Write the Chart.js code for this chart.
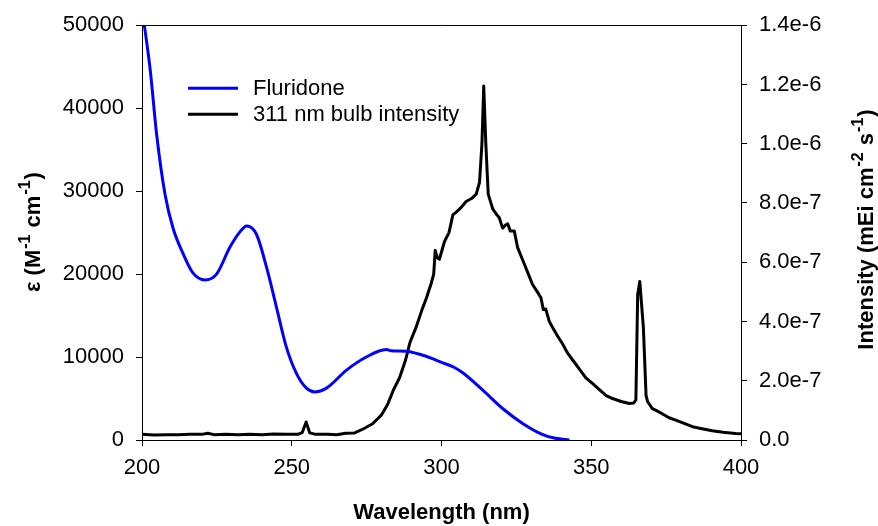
<!DOCTYPE html>
<html>
<head>
<meta charset="utf-8">
<script src="https://cdn.jsdelivr.net/npm/chart.js@4.4.1/dist/chart.umd.min.js"></script>
<style>
  html, body { margin: 0; padding: 0; background: #fff; }
  #wrap { width: 878px; height: 526px; }
</style>
</head>
<body>
<div id="wrap"><canvas id="c" width="878" height="526"></canvas></div>
<script>
// ---- data ----
const fluLabel = 'Fluridone';
const fluWl  = [200, 202.7, 204.9, 207.7, 210.4, 213.8, 217, 221, 224.9, 229.3, 232.5, 235, 238.2, 241.6, 244.9, 248.2, 251.6, 254.9, 257.7, 261.6, 268.2, 274.9, 281.6, 283.2, 288, 293, 297, 300.4, 304, 307.1, 313.8, 320.4, 327.1, 333.8, 338, 342.7];
const fluEps = [52000, 44760, 36800, 29600, 25500, 22400, 20150, 19300, 20000, 23200, 25000, 25800, 24800, 20800, 16000, 11200, 8000, 6250, 5800, 6250, 8400, 10000, 10900, 10750, 10700, 10300, 9800, 9300, 8800, 8100, 6000, 3800, 2000, 650, 200, 0];

const bulbLabel = '311 nm bulb intensity';
const bulbWl = [200, 204, 208, 212, 216, 220, 222, 224, 228, 232, 236, 240, 244, 248, 252, 253.5, 254.8, 256, 258, 262, 265, 268, 271, 274, 277, 280, 282, 284, 286, 288, 289.5, 291.5, 293.5, 295, 296.6, 297.4, 297.9, 298.6, 299.3, 301, 302.5, 303.8, 305, 306.6, 308.2, 310, 311.6, 312.7, 313.5, 314.1, 314.8, 315.6, 317.1, 318.5, 319.3, 320.4, 321.3, 322.1, 323, 324.3, 325.4, 327, 328.2, 330.4, 332, 333.2, 334, 334.8, 336, 337.1, 338.8, 340.4, 342, 343.8, 346, 348.2, 350.5, 352.7, 355, 357.1, 360, 362.7, 364.2, 364.9, 365.5, 366.2, 367.4, 368.3, 368.8, 370.4, 372, 373.8, 376, 378.2, 381, 383.8, 387, 390.4, 394, 398.2, 400];
const bulbI  = [1.9e-8, 1.7e-8, 1.8e-8, 1.8e-8, 1.9e-8, 1.9e-8, 2.3e-8, 1.8e-8, 1.9e-8, 1.8e-8, 1.9e-8, 1.8e-8, 2.0e-8, 1.9e-8, 1.9e-8, 2.5e-8, 6.1e-8, 2.4e-8, 1.9e-8, 1.9e-8, 1.8e-8, 2.3e-8, 2.4e-8, 3.8e-8, 5.5e-8, 8.5e-8, 1.2e-7, 1.7e-7, 2.1e-7, 2.7e-7, 3.3e-7, 3.8e-7, 4.4e-7, 4.8e-7, 5.3e-7, 5.6e-7, 6.4e-7, 6.15e-7, 6.1e-7, 6.7e-7, 7.0e-7, 7.6e-7, 7.7e-7, 7.85e-7, 8.05e-7, 8.15e-7, 8.3e-7, 8.7e-7, 1.0e-6, 1.195e-6, 1.0e-6, 8.3e-7, 7.8e-7, 7.6e-7, 7.5e-7, 7.15e-7, 7.25e-7, 7.3e-7, 7.05e-7, 7.05e-7, 6.5e-7, 6.1e-7, 5.8e-7, 5.25e-7, 5.0e-7, 4.8e-7, 4.4e-7, 4.42e-7, 4.0e-7, 3.8e-7, 3.5e-7, 3.25e-7, 2.95e-7, 2.7e-7, 2.4e-7, 2.1e-7, 1.9e-7, 1.7e-7, 1.5e-7, 1.4e-7, 1.3e-7, 1.23e-7, 1.25e-7, 1.35e-7, 4.9e-7, 5.35e-7, 3.8e-7, 1.5e-7, 1.3e-7, 1.06e-7, 9.8e-8, 8.8e-8, 7.5e-8, 6.7e-8, 5.6e-8, 4.5e-8, 3.8e-8, 3.1e-8, 2.6e-8, 2.2e-8, 2.1e-8];

const xTitle = 'Wavelength (nm)';
// y titles as [text, isSuperscript] pieces
const yLeftTitle  = [['ε (M', false], ['-1', true], [' cm', false], ['-1', true], [')', false]];
const yRightTitle = [['Intensity (mEi cm', false], ['-2', true], [' s', false], ['-1', true], [')', false]];
const xRange = [200, 400, 50];
const yLeftRange = [0, 50000, 10000];
const yRightRange = [0, 1.4e-6, 2e-7];

// ---- chart ----
const FONT = 'Liberation Sans, Arial, sans-serif';
const toXY = (xs, ys) => xs.map((x, i) => ({ x: x, y: ys[i] }));

const frameTop = {
  id: 'frameTop',
  afterDraw(chart) {
    const a = chart.chartArea, ctx = chart.ctx;
    ctx.save();
    ctx.strokeStyle = '#000'; ctx.lineWidth = 1;
    ctx.beginPath();
    ctx.moveTo(a.left, Math.round(a.top) + 0.5);
    ctx.lineTo(a.right, Math.round(a.top) + 0.5);
    ctx.stroke();
    ctx.restore();
  }
};

const insideLegend = {
  id: 'insideLegend',
  afterDraw(chart) {
    const ctx = chart.ctx, a = chart.chartArea;
    const x0 = a.left + 46, lineLen = 50, gap = 15, y0 = a.top + 63, dy = 26;
    ctx.save();
    ctx.font = '22px ' + FONT;
    ctx.textBaseline = 'middle';
    chart.data.datasets.forEach((ds, i) => {
      const y = y0 + i * dy;
      ctx.strokeStyle = ds.borderColor; ctx.lineWidth = 3;
      ctx.beginPath(); ctx.moveTo(x0, y); ctx.lineTo(x0 + lineLen, y); ctx.stroke();
      ctx.fillStyle = '#000';
      ctx.fillText(ds.label, x0 + lineLen + gap, y + 1);
    });
    ctx.restore();
  }
};

// rotated y-axis titles with superscripts (reading bottom-to-top)
function drawRichRotated(ctx, pieces, cx, cy, mainSize, supSize, supRise, supPad) {
  const mainFont = 'bold ' + mainSize + 'px ' + FONT;
  const supFont = 'bold ' + supSize + 'px ' + FONT;
  let total = 0;
  const widths = pieces.map(([t, sup]) => {
    ctx.font = sup ? supFont : mainFont;
    const w = ctx.measureText(t).width + (sup ? 2 * supPad : 0);
    total += w; return w;
  });
  ctx.save();
  ctx.translate(cx, cy);
  ctx.rotate(-Math.PI / 2);
  ctx.fillStyle = '#000';
  ctx.textBaseline = 'alphabetic';
  let x = -total / 2;
  const base = mainSize * 0.36;
  pieces.forEach(([t, sup], i) => {
    ctx.font = sup ? supFont : mainFont;
    if (sup) ctx.fillText(t, x + supPad, base - supRise);
    else ctx.fillText(t, x, base);
    x += widths[i];
  });
  ctx.restore();
}
const yTitles = {
  id: 'yTitles',
  afterDraw(chart) {
    drawRichRotated(chart.ctx, yLeftTitle, 32, 232, 22, 16, 10, 1);
    drawRichRotated(chart.ctx, yRightTitle, 865, 229.5, 22, 16, 10, 1);
  }
};

const tickFont = { family: FONT, size: 22 };
const titleFont = { family: FONT, size: 22, weight: 'bold' };

new Chart(document.getElementById('c'), {
  type: 'line',
  data: {
    datasets: [
      { label: fluLabel, data: toXY(fluWl, fluEps), yAxisID: 'y', borderColor: '#0000ff', borderWidth: 3,
        pointRadius: 0, cubicInterpolationMode: 'monotone', fill: false },
      { label: bulbLabel, data: toXY(bulbWl, bulbI), yAxisID: 'y2', borderColor: '#000000', borderWidth: 3,
        pointRadius: 0, tension: 0, fill: false, borderJoinStyle: 'round' }
    ]
  },
  options: {
    responsive: false,
    animation: false,
    layout: { padding: { top: 23, left: 0, right: 0, bottom: 0 } },
    plugins: { legend: { display: false }, tooltip: { enabled: false } },
    scales: {
      x: {
        type: 'linear', min: xRange[0], max: xRange[1],
        ticks: { stepSize: xRange[2], color: '#000', font: tickFont, padding: 9, maxRotation: 0 },
        grid: { drawOnChartArea: false, drawTicks: true, tickLength: 6, color: '#000' },
        border: { display: true, color: '#000', width: 1 },
        title: { display: true, text: xTitle, color: '#000', font: titleFont, padding: { top: 0, bottom: 0 } },
        afterFit(s) { s.height = 86; }
      },
      y: {
        position: 'left', min: yLeftRange[0], max: yLeftRange[1],
        ticks: { stepSize: yLeftRange[2], color: '#000', font: tickFont, padding: 12,
          callback: v => String(v) },
        grid: { drawOnChartArea: false, drawTicks: true, tickLength: 6, color: '#000' },
        border: { display: true, color: '#000', width: 1 },
        afterFit(s) { s.width = 142; }
      },
      y2: {
        position: 'right', min: yRightRange[0], max: yRightRange[1],
        ticks: { stepSize: yRightRange[2], color: '#000', font: tickFont, padding: 12,
          callback: v => (Math.abs(v) < 1e-12 ? '0.0' : Number(v).toExponential(1)) },
        grid: { drawOnChartArea: false, drawTicks: true, tickLength: 6, color: '#000' },
        border: { display: true, color: '#000', width: 1 },
        afterFit(s) { s.width = 137; }
      }
    }
  },
  plugins: [frameTop, insideLegend, yTitles]
});
</script>
</body>
</html>
